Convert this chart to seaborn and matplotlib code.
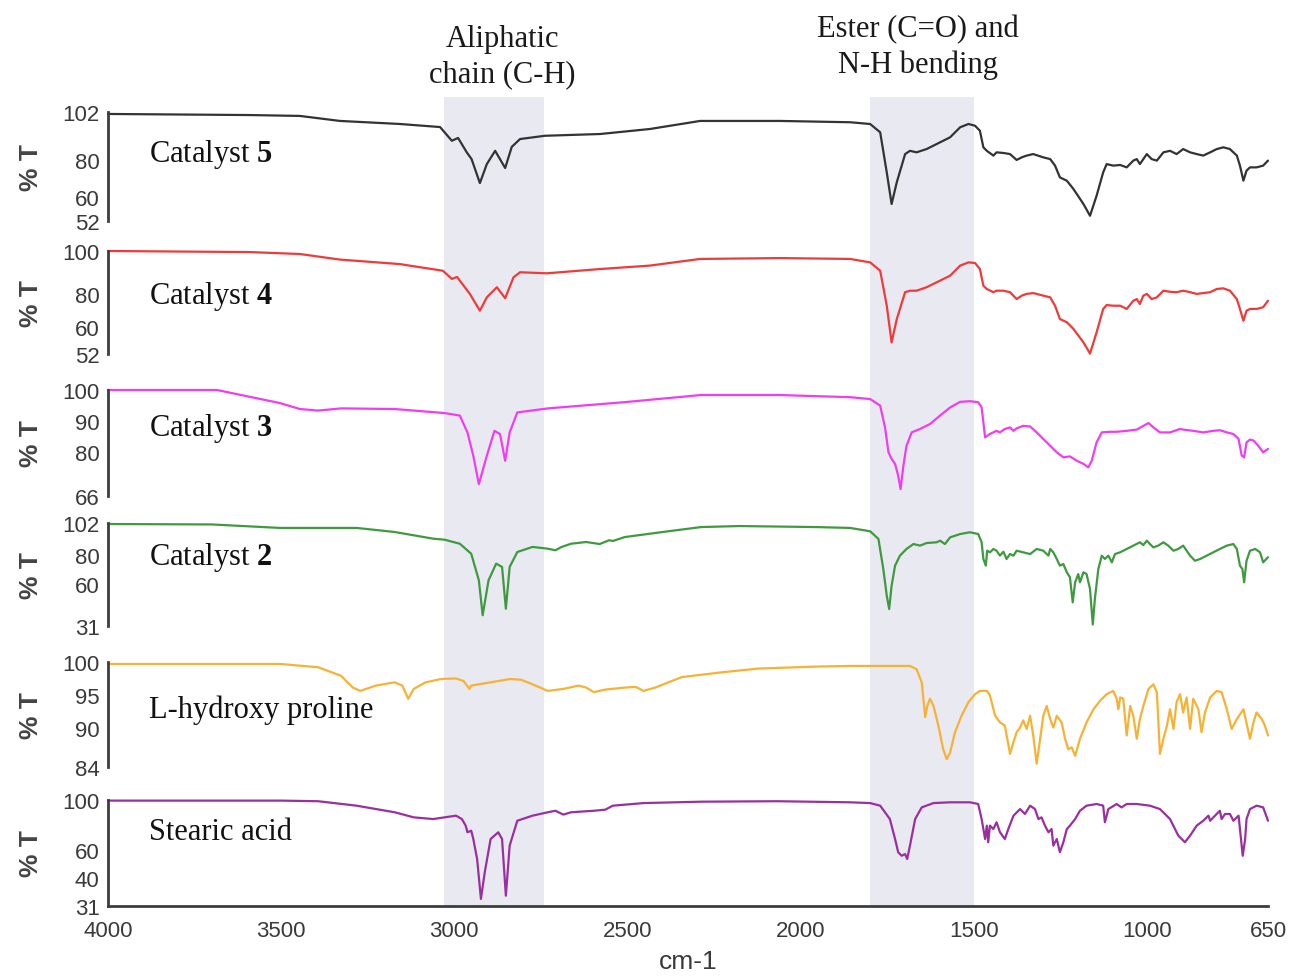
import matplotlib
matplotlib.use("Agg")
import matplotlib.pyplot as plt
import matplotlib.transforms as mtransforms
from matplotlib import font_manager
import seaborn as sns
import pandas as pd

# ---------------------------------------------------------------------------
# FTIR spectra: (wavenumber cm-1, %T)
# ---------------------------------------------------------------------------
CATALYST_5 = [
    (4000, 101.1), (3590, 100.6), (3446, 100.2), (3330, 97.9), (3157, 96.5),
    (3041, 95.1), (3007, 88.8), (2989, 90.1), (2964, 83.5), (2950, 80.4),
    (2926, 69.4), (2906, 78.1), (2882, 84.2), (2853, 76.3), (2834, 86.0),
    (2810, 89.6), (2738, 91.1), (2579, 91.9), (2435, 94.2), (2290, 97.9),
    (2059, 97.9), (1857, 97.3), (1799, 96.5), (1770, 92.7), (1751, 74.3),
    (1737, 59.8), (1722, 69.8), (1698, 82.7), (1684, 84.2), (1665, 83.5),
    (1636, 85.0), (1607, 87.3), (1568, 90.4), (1539, 95.0), (1515, 96.5),
    (1496, 95.7), (1482, 93.4), (1472, 85.8), (1462, 84.2), (1443, 82.0),
    (1434, 83.5), (1414, 83.2), (1395, 82.7), (1376, 80.0), (1361, 81.2),
    (1347, 82.0), (1328, 82.7), (1299, 81.2), (1279, 80.4), (1265, 77.4),
    (1251, 72.0), (1231, 70.5), (1212, 66.7), (1183, 59.8), (1164, 54.4),
    (1145, 63.6), (1126, 74.3), (1116, 78.1), (1097, 77.4), (1077, 77.7),
    (1058, 76.6), (1039, 79.7), (1029, 80.4), (1020, 78.1), (1010, 80.4),
    (1000, 82.7), (986, 80.4), (971, 79.7), (952, 83.5), (933, 84.2),
    (914, 82.7), (895, 85.0), (875, 83.5), (856, 82.7), (837, 82.0),
    (817, 83.5), (798, 85.0), (779, 85.8), (760, 85.0), (740, 82.0),
    (731, 77.4), (721, 70.5), (712, 75.1), (702, 76.6), (683, 76.6),
    (664, 77.4), (650, 79.7),
]

CATALYST_4 = [
    (4000, 100.0), (3590, 99.5), (3446, 98.6), (3330, 96.0), (3157, 93.9),
    (3033, 90.8), (3007, 87.0), (2992, 87.9), (2955, 80.0), (2926, 72.2),
    (2906, 78.4), (2877, 83.1), (2853, 78.0), (2829, 87.7), (2810, 90.1),
    (2733, 89.6), (2579, 91.6), (2435, 93.2), (2290, 96.3), (2059, 96.7),
    (1857, 96.3), (1799, 94.7), (1770, 90.8), (1751, 74.5), (1737, 57.4),
    (1722, 68.3), (1698, 80.8), (1684, 81.5), (1665, 81.5), (1636, 83.1),
    (1607, 85.4), (1568, 88.5), (1539, 93.2), (1515, 94.7), (1496, 94.4),
    (1482, 91.6), (1472, 83.8), (1462, 82.3), (1443, 80.8), (1434, 81.5),
    (1414, 81.5), (1395, 80.8), (1376, 77.6), (1361, 79.2), (1347, 80.0),
    (1328, 80.4), (1299, 79.2), (1279, 78.4), (1265, 74.5), (1251, 68.3),
    (1231, 66.8), (1212, 63.7), (1183, 57.4), (1164, 52.2), (1145, 62.1),
    (1126, 73.0), (1116, 74.8), (1097, 74.5), (1077, 74.5), (1058, 73.0),
    (1039, 76.8), (1029, 77.6), (1020, 75.3), (1010, 79.2), (1000, 80.0),
    (986, 77.6), (971, 78.4), (952, 81.5), (933, 81.0), (914, 80.8),
    (895, 81.5), (875, 80.8), (856, 80.0), (837, 80.4), (817, 80.8),
    (798, 82.3), (779, 82.6), (760, 81.5), (740, 77.6), (731, 73.0),
    (721, 67.5), (712, 72.2), (702, 73.0), (683, 73.0), (664, 73.8),
    (650, 76.8),
]

CATALYST_3 = [
    (4000, 100.0), (3685, 100.0), (3590, 97.8), (3503, 95.8), (3446, 93.9),
    (3393, 93.4), (3327, 94.1), (3172, 93.9), (3028, 92.6), (2984, 91.8),
    (2962, 86.4), (2945, 78.9), (2929, 69.8), (2906, 78.9), (2884, 86.9),
    (2868, 85.9), (2853, 77.3), (2840, 86.4), (2818, 92.8), (2730, 94.1),
    (2508, 96.1), (2287, 98.4), (2067, 98.4), (1857, 97.7), (1799, 97.1),
    (1770, 95.0), (1756, 88.0), (1746, 80.0), (1737, 77.9), (1727, 76.3),
    (1718, 72.5), (1711, 68.2), (1703, 75.7), (1694, 82.1), (1679, 86.4),
    (1655, 87.5), (1626, 89.1), (1597, 91.8), (1568, 94.4), (1539, 96.2),
    (1511, 96.4), (1487, 96.1), (1477, 94.4), (1472, 89.6), (1467, 84.8),
    (1453, 85.9), (1434, 86.9), (1424, 86.4), (1410, 87.5), (1395, 88.0),
    (1385, 86.9), (1376, 87.7), (1357, 88.5), (1337, 88.3), (1318, 86.4),
    (1299, 84.3), (1279, 82.1), (1260, 80.0), (1241, 78.4), (1222, 78.7),
    (1202, 77.3), (1183, 76.3), (1169, 75.2), (1159, 77.3), (1145, 83.2),
    (1130, 86.4), (1106, 86.6), (1087, 86.6), (1058, 86.9), (1029, 87.3),
    (1010, 88.5), (995, 89.4), (981, 88.0), (962, 86.4), (933, 86.4),
    (904, 87.5), (895, 87.3), (866, 86.9), (837, 86.4), (808, 86.9),
    (789, 87.1), (769, 86.4), (750, 85.9), (735, 84.3), (726, 79.0),
    (719, 78.4), (712, 83.2), (702, 84.1), (692, 83.8), (678, 82.1),
    (664, 80.0), (650, 81.1),
]

CATALYST_2 = [
    (4000, 101.3), (3700, 101.0), (3503, 98.6), (3282, 98.6), (3172, 95.8),
    (3061, 91.2), (3028, 90.5), (2984, 87.7), (2951, 80.8), (2929, 62.5),
    (2918, 38.4), (2901, 62.5), (2879, 74.0), (2862, 71.7), (2851, 42.9),
    (2840, 71.7), (2818, 82.0), (2774, 85.5), (2730, 84.3), (2708, 83.2),
    (2690, 85.5), (2663, 87.7), (2619, 88.9), (2580, 87.5), (2553, 90.1),
    (2542, 89.6), (2508, 92.3), (2398, 95.8), (2287, 99.2), (2177, 99.9),
    (1956, 99.2), (1857, 98.6), (1799, 96.3), (1775, 91.0), (1761, 70.3),
    (1751, 51.9), (1744, 42.7), (1737, 58.8), (1727, 72.6), (1713, 79.5),
    (1694, 84.1), (1674, 87.5), (1655, 86.4), (1636, 88.2), (1607, 88.7),
    (1597, 89.8), (1583, 87.5), (1568, 92.1), (1539, 94.4), (1511, 95.6),
    (1487, 94.4), (1477, 88.7), (1472, 77.2), (1465, 72.6), (1461, 82.9),
    (1453, 81.8), (1443, 84.1), (1434, 82.9), (1424, 79.5), (1414, 82.2),
    (1405, 77.2), (1395, 80.6), (1385, 79.5), (1376, 82.9), (1357, 81.8),
    (1337, 80.6), (1318, 84.1), (1299, 82.9), (1284, 79.5), (1279, 84.1),
    (1270, 81.8), (1260, 77.2), (1251, 72.6), (1241, 73.7), (1231, 68.0),
    (1222, 64.6), (1214, 47.3), (1207, 61.1), (1198, 66.8), (1193, 61.1),
    (1183, 68.0), (1174, 66.8), (1164, 56.5), (1156, 32.0), (1150, 49.6),
    (1140, 70.3), (1130, 79.5), (1121, 77.2), (1111, 79.5), (1101, 74.9),
    (1092, 80.6), (1077, 81.8), (1058, 84.1), (1039, 86.4), (1020, 88.7),
    (1010, 86.8), (1000, 89.8), (991, 87.5), (981, 85.2), (967, 86.4),
    (952, 88.7), (938, 86.4), (923, 82.9), (909, 84.1), (895, 86.4),
    (875, 79.5), (861, 76.0), (846, 77.2), (827, 79.5), (808, 81.8),
    (789, 84.1), (769, 86.4), (750, 87.5), (740, 84.1), (731, 72.6),
    (724, 70.3), (719, 61.1), (712, 76.0), (702, 82.9), (687, 84.1),
    (673, 81.8), (664, 74.9), (650, 78.4),
]

L_HYDROXY_PROLINE = [
    (4000, 99.7), (3700, 99.7), (3503, 99.7), (3393, 99.2), (3327, 97.9),
    (3293, 96.1), (3271, 95.6), (3227, 96.4), (3172, 96.9), (3150, 96.4),
    (3133, 94.4), (3117, 95.9), (3083, 96.9), (3039, 97.4), (2995, 97.5),
    (2973, 97.1), (2956, 95.9), (2951, 96.4), (2929, 96.6), (2884, 97.0),
    (2840, 97.4), (2807, 97.3), (2774, 96.6), (2730, 95.6), (2685, 95.9),
    (2641, 96.4), (2619, 96.1), (2597, 95.4), (2564, 95.8), (2508, 96.1),
    (2476, 96.2), (2453, 95.6), (2420, 96.1), (2343, 97.7), (2232, 98.4),
    (2122, 99.0), (1956, 99.3), (1857, 99.4), (1684, 99.4), (1665, 98.9),
    (1650, 96.9), (1640, 91.6), (1634, 93.3), (1626, 94.4), (1616, 93.3),
    (1602, 90.3), (1588, 86.7), (1578, 85.2), (1568, 86.2), (1554, 89.3),
    (1535, 91.8), (1515, 93.9), (1496, 95.1), (1482, 95.6), (1462, 95.6),
    (1453, 94.9), (1438, 91.8), (1424, 90.8), (1410, 90.3), (1395, 86.0),
    (1385, 87.8), (1376, 89.3), (1366, 90.0), (1357, 91.1), (1347, 89.8),
    (1337, 91.8), (1328, 88.8), (1318, 84.5), (1308, 88.3), (1299, 91.8),
    (1289, 93.3), (1279, 91.3), (1270, 90.0), (1260, 91.8), (1246, 90.8),
    (1236, 88.3), (1227, 86.7), (1217, 87.0), (1207, 85.7), (1193, 88.3),
    (1174, 90.8), (1154, 92.8), (1135, 94.1), (1116, 95.1), (1097, 95.6),
    (1087, 94.4), (1082, 92.8), (1077, 94.6), (1068, 94.4), (1058, 88.8),
    (1048, 93.3), (1039, 91.8), (1029, 88.3), (1020, 91.3), (1010, 93.3),
    (995, 95.9), (981, 96.6), (971, 95.4), (962, 86.0), (952, 88.3),
    (942, 90.3), (933, 92.8), (923, 89.8), (914, 93.9), (904, 95.1),
    (895, 92.3), (885, 94.6), (875, 89.8), (866, 94.4), (851, 92.8),
    (842, 89.3), (832, 92.3), (817, 94.6), (798, 95.6), (784, 95.4),
    (769, 92.8), (755, 89.8), (740, 91.3), (721, 92.8), (702, 88.3),
    (692, 90.8), (683, 92.3), (668, 91.3), (659, 90.3), (650, 88.8),
]

STEARIC_ACID = [
    (4000, 99.6), (3503, 99.6), (3393, 99.2), (3282, 96.3), (3172, 92.0),
    (3117, 88.7), (3061, 87.6), (3028, 88.7), (2995, 89.8), (2978, 87.6),
    (2967, 83.3), (2962, 79.0), (2951, 80.0), (2945, 74.6), (2934, 61.6),
    (2923, 35.6), (2912, 52.9), (2895, 74.6), (2873, 79.0), (2862, 74.6),
    (2851, 37.7), (2840, 70.3), (2818, 86.5), (2774, 89.8), (2730, 92.0),
    (2708, 93.0), (2685, 90.5), (2663, 92.0), (2597, 93.0), (2564, 93.7),
    (2542, 96.3), (2453, 98.0), (2287, 98.9), (2067, 99.2), (1857, 98.5),
    (1799, 98.0), (1770, 96.3), (1742, 87.6), (1727, 74.6), (1718, 66.0),
    (1708, 63.7), (1698, 64.8), (1692, 61.6), (1684, 70.3), (1669, 87.6),
    (1650, 95.2), (1616, 98.0), (1568, 98.5), (1511, 98.5), (1487, 97.4),
    (1477, 87.6), (1472, 81.1), (1467, 74.6), (1462, 83.3), (1458, 72.5),
    (1453, 83.3), (1443, 81.1), (1434, 85.5), (1424, 79.0), (1410, 74.6),
    (1400, 81.1), (1385, 89.8), (1366, 94.1), (1352, 90.9), (1337, 96.3),
    (1323, 94.1), (1313, 87.6), (1304, 88.7), (1294, 83.3), (1284, 79.0),
    (1275, 81.1), (1270, 70.3), (1260, 74.6), (1251, 66.0), (1241, 72.5),
    (1231, 81.1), (1222, 83.3), (1207, 87.6), (1193, 93.0), (1174, 96.3),
    (1145, 97.4), (1126, 96.3), (1121, 85.5), (1111, 94.1), (1087, 97.4),
    (1073, 95.2), (1058, 97.4), (1029, 97.4), (991, 96.3), (962, 94.1),
    (933, 87.6), (909, 76.8), (890, 72.5), (875, 76.8), (856, 83.3),
    (837, 86.5), (822, 89.8), (817, 86.5), (803, 89.8), (789, 93.0),
    (784, 87.6), (774, 90.9), (760, 90.9), (750, 86.5), (735, 89.8),
    (729, 76.8), (723, 63.7), (716, 74.6), (712, 87.6), (702, 94.1),
    (683, 96.3), (664, 95.2), (650, 86.5),
]

SPECTRA = [CATALYST_5, CATALYST_4, CATALYST_3, CATALYST_2,
           L_HYDROXY_PROLINE, STEARIC_ACID]
SAMPLE_LABELS = [r"Catalyst $\mathbf{5}$", r"Catalyst $\mathbf{4}$",
                 r"Catalyst $\mathbf{3}$", r"Catalyst $\mathbf{2}$",
                 "L-hydroxy proline", "Stearic acid"]
LINE_COLORS = ["#333333", "#f03a3a", "#f23cf0", "#3f9a3f", "#f7b235", "#9a2fa0"]

Y_LIMITS = [(52, 102), (52, 100), (66, 100), (31, 102), (84, 100), (31, 100)]
Y_TICKS = [[102, 80, 60, 52], [100, 80, 60, 52], [100, 90, 80, 66],
           [102, 80, 60, 31], [100, 95, 90, 84], [100, 80, 60, 40, 31]]
Y_TICK_LABELS = [["102", "80", "60", "52"], ["100", "80", "60", "52"],
                 ["100", "90", "80", "66"], ["102", "80", "60", "31"],
                 ["100", "95", "90", "84"], ["100", "", "60", "40", "31"]]
# upward shift (pixels) of a few crowded tick labels: (panel, label) -> px
LABEL_LIFT = {(0, "60"): 7, (1, "60"): 10, (5, "60"): 11, (5, "40"): 14}

X_TICKS = [4000, 3500, 3000, 2500, 2000, 1500, 1000, 650]
BANDS = [(3030, 2740), (1800, 1500)]
BAND_LABELS = ["Aliphatic\nchain (C-H)", "Ester (C=O) and\nN-H bending"]
BAND_LABEL_X = [2860, 1660]
BAND_LABEL_TOP_PX = [25, 15]

# ---------------------------------------------------------------------------
sns.set_theme(style="white")
installed = {f.name for f in font_manager.fontManager.ttflist}
narrow = "Liberation Sans Narrow" if "Liberation Sans Narrow" in installed else "Liberation Sans"
plt.rcParams["font.family"] = [narrow, "DejaVu Sans"]
plt.rcParams["mathtext.fontset"] = "custom"
plt.rcParams["mathtext.rm"] = "Liberation Serif"
plt.rcParams["mathtext.bf"] = "Liberation Serif:bold"

AXIS_COLOR = "#3d3d3d"
TICK_COLOR = "#3a3a3a"
SERIF = "Liberation Serif"

W, H = 1290, 979
fig = plt.figure(figsize=(W / 100, H / 100), dpi=100)

x_left, x_right = 108, 1268
# panel extents in pixels (top, bottom)
PANEL_PX = [(113, 222), (252, 355), (391, 497), (524, 627), (663, 768), (801, 907)]
LABEL_FRAC_Y = [0.615, 0.565, 0.65, 0.67, 0.55, 0.70]


def fig_rect(top, bottom):
    return [x_left / W, 1 - bottom / H, (x_right - x_left) / W, (bottom - top) / H]


# shaded band background
ax_bg = fig.add_axes(fig_rect(98, 907), zorder=0)
ax_bg.set_xlim(4000, 650)
ax_bg.set_ylim(0, 1)
for lo, hi in BANDS:
    ax_bg.axvspan(lo, hi, color="#e9e9f1", lw=0)
ax_bg.axis("off")

blend = mtransforms.blended_transform_factory(ax_bg.transData, fig.transFigure)
for label, xc, top_px in zip(BAND_LABELS, BAND_LABEL_X, BAND_LABEL_TOP_PX):
    fig.text(xc, 1 - top_px / H, label, transform=blend, ha="center", va="top",
             family=SERIF, fontsize=22, color="#1a1a1a", linespacing=1.28)

for i, spectrum in enumerate(SPECTRA):
    top, bottom = PANEL_PX[i]
    ax = fig.add_axes(fig_rect(top, bottom), zorder=2)
    ax.patch.set_alpha(0)
    df = pd.DataFrame(spectrum, columns=["wavenumber", "T"])
    sns.lineplot(data=df, x="wavenumber", y="T", ax=ax, color=LINE_COLORS[i],
                 linewidth=1.6, sort=False, estimator=None, errorbar=None)
    for ln in ax.lines:
        ln.set_clip_on(False)
    ax.set_xlim(4000, 650)
    ax.set_ylim(*Y_LIMITS[i])
    ax.set_yticks(Y_TICKS[i])
    ax.set_yticklabels(Y_TICK_LABELS[i])
    sns.despine(ax=ax, top=True, right=True, bottom=(i != len(SPECTRA) - 1))
    ax.spines["left"].set_color(AXIS_COLOR)
    ax.spines["left"].set_linewidth(2.0)
    ax.tick_params(axis="y", direction="out", length=5, width=1.6,
                   color=AXIS_COLOR, labelcolor=TICK_COLOR, labelsize=16, pad=1)
    for tick in ax.yaxis.get_major_ticks():
        lift = LABEL_LIFT.get((i, tick.label1.get_text()), 0)
        if lift:
            shift = mtransforms.ScaledTranslation(0, lift / 100, fig.dpi_scale_trans)
            tick.label1.set_transform(tick.label1.get_transform() + shift)
    ax.set_ylabel("% T", fontsize=19, fontweight="bold", color="#444444",
                  family=["Liberation Sans", "DejaVu Sans"])
    ax.yaxis.set_label_coords(-0.056, 0.5)
    ax.text(0.035, LABEL_FRAC_Y[i], SAMPLE_LABELS[i], transform=ax.transAxes,
            ha="left", va="center", family=SERIF, fontsize=22, color="#111111")
    if i == len(SPECTRA) - 1:
        ax.set_xticks(X_TICKS)
        ax.set_xticklabels([str(t) for t in X_TICKS])
        ax.spines["bottom"].set_color(AXIS_COLOR)
        ax.spines["bottom"].set_linewidth(2.0)
        ax.tick_params(axis="x", direction="out", length=7, width=1.6,
                       color=AXIS_COLOR, labelcolor=TICK_COLOR, labelsize=16, pad=3)
        ax.set_xlabel("cm-1", fontsize=19, color="#3a3a3a", labelpad=6)
    else:
        ax.set_xticks([])
        ax.set_xlabel("")

fig.savefig("out.png", dpi=100)
